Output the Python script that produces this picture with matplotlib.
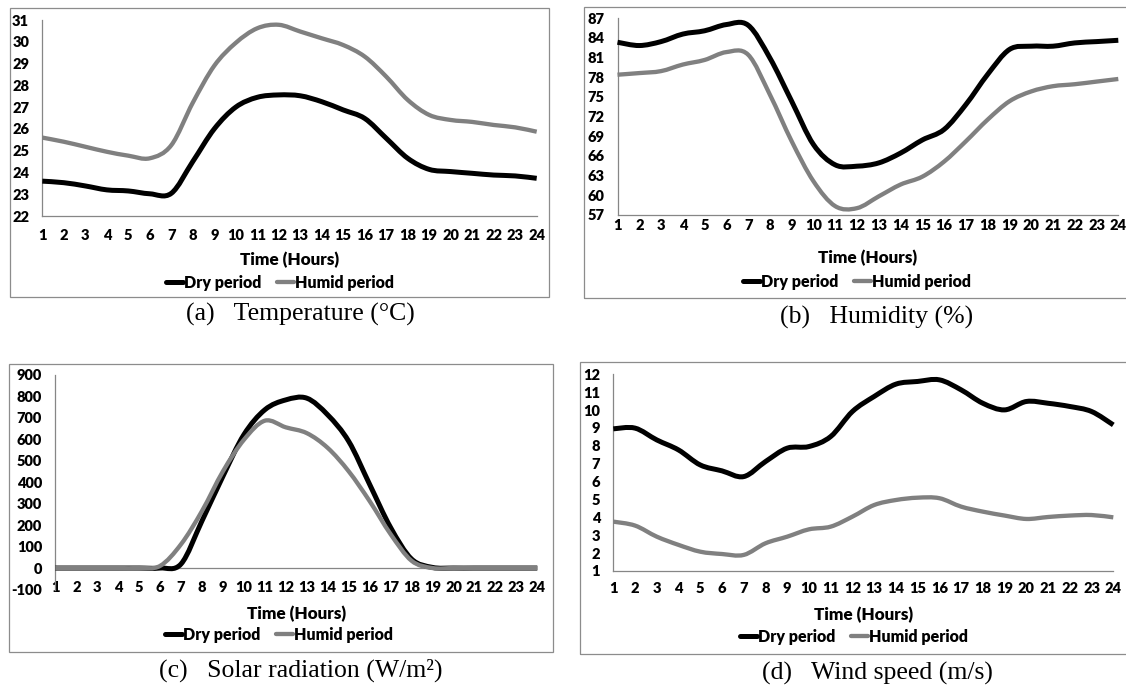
import numpy as np
import matplotlib
matplotlib.use('Agg')
import matplotlib.pyplot as plt
from matplotlib.path import Path
from matplotlib.patches import PathPatch, Rectangle
from matplotlib.lines import Line2D

plt.rcParams['axes.unicode_minus'] = False

hours = list(range(1, 25))

temp_dry = [23.6, 23.53, 23.38, 23.2, 23.15, 23.02, 23.04, 24.5, 26.0, 27.0, 27.45, 27.56,
            27.52, 27.25, 26.87, 26.48, 25.57, 24.65, 24.14, 24.04, 23.96, 23.88, 23.84, 23.73]
temp_humid = [25.6, 25.41, 25.18, 24.95, 24.77, 24.65, 25.25, 27.2, 28.9, 29.95, 30.62, 30.78,
              30.47, 30.16, 29.85, 29.32, 28.4, 27.33, 26.64, 26.41, 26.32, 26.18, 26.07, 25.87]

hum_dry = [83.3, 82.8, 83.4, 84.55, 85.05, 86.0, 85.9, 80.9, 74.3, 67.7, 64.6, 64.4,
           64.9, 66.4, 68.4, 70.0, 73.8, 78.4, 82.2, 82.7, 82.7, 83.2, 83.4, 83.6]
hum_humid = [78.35, 78.6, 78.9, 79.9, 80.6, 81.8, 81.4, 75.3, 68.2, 62.1, 58.3, 58.0,
             59.8, 61.6, 62.8, 65.1, 68.2, 71.5, 74.3, 75.8, 76.6, 76.9, 77.3, 77.7]

solar_dry = [0, 0, 0, 0, 0, 0, 19, 220, 428, 622, 738, 784,
             792, 714, 591, 390, 189, 42, 3, 0, 0, 0, 0, 0]
solar_humid = [0, 0, 0, 0, 0, 10, 111, 266, 451, 598, 687, 656,
               629, 560, 451, 312, 158, 34, 0, 0, 0, 0, 0, 0]

wind_dry = [8.95, 8.99, 8.33, 7.77, 6.93, 6.6, 6.28, 7.12, 7.87, 7.96, 8.52, 9.92,
            10.76, 11.45, 11.6, 11.69, 11.13, 10.38, 10.01, 10.48, 10.38, 10.2, 9.92, 9.17]
wind_humid = [3.76, 3.54, 2.92, 2.46, 2.08, 1.95, 1.9, 2.55, 2.92, 3.33, 3.48, 4.04,
              4.69, 4.97, 5.1, 5.07, 4.6, 4.32, 4.1, 3.91, 4.02, 4.1, 4.13, 4.0]

series_labels = ['Dry period', 'Humid period']

W, H = 1126, 686
DRY = '#000000'
HUMID = '#808080'
AXIS = '#868686'
FRAME = '#8c8c8c'
SANS = 'Lato'
SERIF = 'Liberation Serif'
WEIGHT = 'heavy'


def smooth_line(ax, x, y, color, lw, z):
    """Excel-like smoothed line: cubic bezier through every point."""
    pts = np.column_stack([x, y]).astype(float)
    ext = np.vstack([pts[0], pts, pts[-1]])
    verts = [pts[0]]
    codes = [Path.MOVETO]
    for i in range(len(pts) - 1):
        p0, p1, p2, p3 = ext[i], ext[i + 1], ext[i + 2], ext[i + 3]
        verts += [p1 + (p2 - p0) / 6, p2 - (p3 - p1) / 6, p2]
        codes += [Path.CURVE4] * 3
    ax.add_patch(PathPatch(Path(verts, codes), fill=False, edgecolor=color, lw=lw,
                           capstyle='butt', joinstyle='round', clip_on=False, zorder=z))


def panel(box, axbox, ylim, yticks, dry, humid, xpad, label_y, legend_c,
          caption, caption_c, zero_line=False):
    # outer chart frame
    bx0, by0, bx1, by1 = box
    fig.add_artist(Rectangle((bx0 / W, 1 - by1 / H), (bx1 - bx0) / W, (by1 - by0) / H,
                             transform=fig.transFigure, fill=False, edgecolor=FRAME,
                             lw=0.9, clip_on=False))
    l, t, r, b = axbox
    ax = fig.add_axes([l / W, 1 - b / H, (r - l) / W, (b - t) / H])
    ax.set_xlim(1, 24)
    ax.set_ylim(*ylim)
    ax.set_xticks(hours)
    ax.set_xticklabels([str(h) for h in hours])
    ax.set_yticks(yticks)
    for s in ['top', 'right']:
        ax.spines[s].set_visible(False)
    ax.spines['left'].set_color(AXIS)
    ax.spines['left'].set_linewidth(0.9)
    if zero_line:
        ax.spines['bottom'].set_visible(False)
        ax.axhline(0, color=AXIS, lw=0.9, zorder=1)
    else:
        ax.spines['bottom'].set_color(AXIS)
        ax.spines['bottom'].set_linewidth(0.9)
    ax.tick_params(axis='both', length=0, labelsize=10.5)
    ax.tick_params(axis='y', pad=9.5)
    ax.tick_params(axis='x', pad=xpad)
    for lab in ax.get_xticklabels() + ax.get_yticklabels():
        lab.set_fontfamily(SANS)
        lab.set_fontweight(WEIGHT)
    smooth_line(ax, hours, dry, DRY, 3.6, 3)
    smooth_line(ax, hours, humid, HUMID, 3.1, 4)

    cx = (l + r) / 2
    fig.text(cx / W, 1 - label_y / H, 'Time (Hours)', ha='center', va='center',
             family=SANS, weight=WEIGHT, fontsize=12.3)
    handles = [Line2D([], [], color=DRY, lw=3.6, solid_capstyle='round'),
               Line2D([], [], color=HUMID, lw=3.1, solid_capstyle='round')]
    fig.legend(handles, series_labels, loc='center',
               bbox_to_anchor=(legend_c[0] / W, 1 - legend_c[1] / H), ncol=2,
               frameon=False, handlelength=1.05, handletextpad=0.05, columnspacing=1.0,
               borderpad=0, prop={'family': SANS, 'weight': WEIGHT, 'size': 11.5})
    fig.text(caption_c[0] / W, 1 - caption_c[1] / H, caption, ha='center', va='center',
             family=SERIF, fontsize=18.5)
    return ax


fig = plt.figure(figsize=(W / 100, H / 100), dpi=100)

panel((10, 8, 549, 297), (42.3, 20, 536.7, 216), (22, 31), range(22, 32),
      temp_dry, temp_humid, 9.0, 260, (280, 283),
      '(a)   Temperature (°C)', (300, 314))

panel((584, 7, 1135, 298), (617.5, 18, 1118.3, 214.7), (57, 87), range(57, 88, 3),
      hum_dry, hum_humid, 3.0, 258, (857, 282),
      '(b)   Humidity (%)', (877, 317))

panel((9, 364, 553, 652), (55.3, 375, 537.3, 589.5), (-100, 900), range(-100, 901, 100),
      solar_dry, solar_humid, -6.2, 614, (279, 635),
      '(c)   Solar radiation (W/m²)', (301, 670), zero_line=True)

panel((580, 362, 1135, 654), (613.3, 374.3, 1113.3, 571), (1, 12), range(1, 13),
      wind_dry, wind_humid, 8.0, 615, (854, 637),
      '(d)   Wind speed (m/s)', (877, 673))

fig.savefig('out.png', dpi=100)
